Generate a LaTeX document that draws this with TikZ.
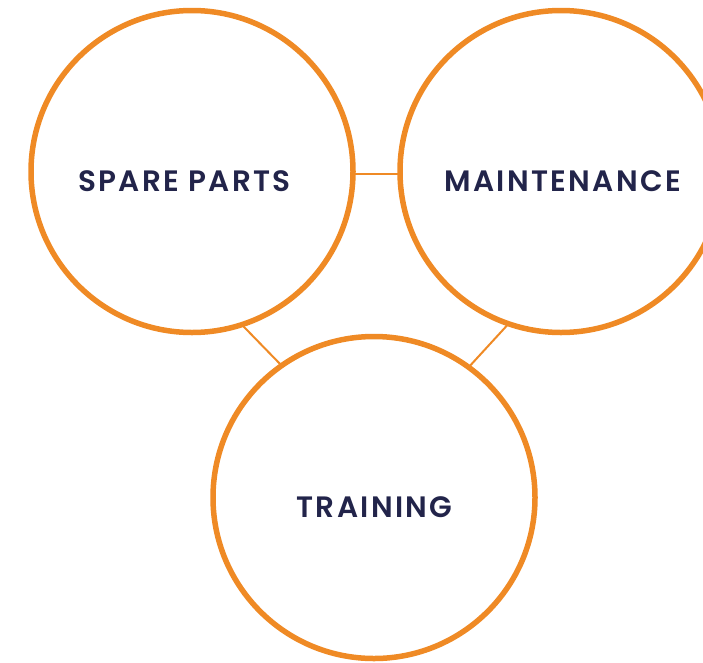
\documentclass[tikz,border=0pt]{standalone}
\usepackage{fontspec}
\setmainfont{Poppins}
\definecolor{ring}{HTML}{EF8A25}
\definecolor{navy}{HTML}{22244A}
\newfontfamily\lblfont{Poppins SemiBold}[LetterSpace=8]
\begin{document}
\begin{tikzpicture}[x=1pt,y=-1pt,
  ring/.style={circle,draw=ring,line width=5.5pt,minimum size=322pt,inner sep=0pt,outer sep=0pt},
  link/.style={draw=ring,line width=2pt},
  lbl/.style={text=navy,font=\fontsize{29.5}{33}\lblfont,inner sep=0pt,anchor=center}]
\useasboundingbox (0,0) rectangle (703,662);
\node[ring] (L) at (192,171.5) {};
\node[ring] (R) at (561,171.5) {};
\node[ring] (B) at (374,497.5) {};
\draw[link] (L.-1.6) -- (R.181.6);
\draw[link] (L.-72.7) -- (B.125.8);
\draw[link] (R.-109.2) -- (B.54);
\node[lbl] (tl) at (184.5,181) {SPARE PARTS};
\node[lbl] (tr) at (562.5,181) {MAINTENANCE};
\node[lbl] (tb) at (374.5,507) {TRAINING};
\end{tikzpicture}
\end{document}
